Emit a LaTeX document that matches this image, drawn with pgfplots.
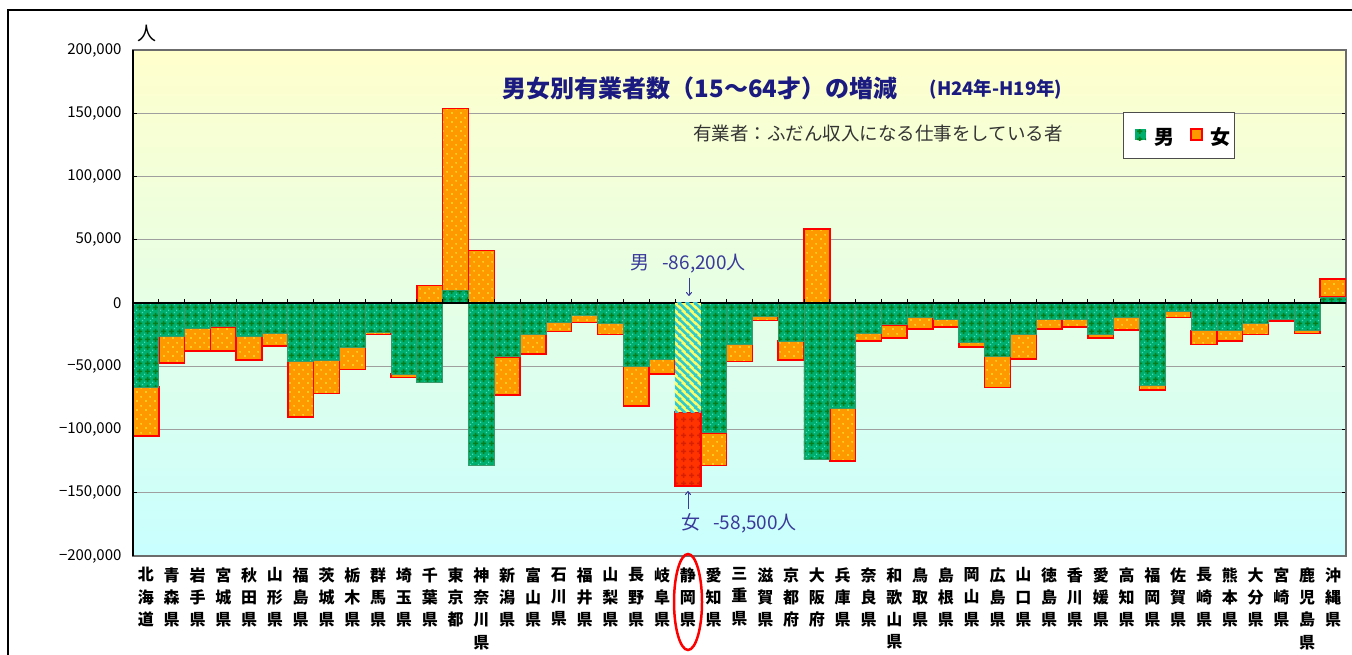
\documentclass[border=0pt]{standalone}
\usepackage{fontspec}
\setmainfont{Noto Sans CJK JP}
\usepackage{pgfplots}
\pgfplotsset{compat=1.18}
\usepackage{pgfplotstable}
\usetikzlibrary{patterns,arrows.meta}

\definecolor{maleg}{HTML}{00AE6E}
\definecolor{maledark}{HTML}{067E1E}
\definecolor{malelt}{HTML}{40E0C0}
\definecolor{maleedge}{HTML}{3A9A6A}
\definecolor{femo}{HTML}{FF9900}
\definecolor{femdot}{HTML}{FFFF40}
\definecolor{femred}{HTML}{FF0000}
\definecolor{titleblue}{HTML}{1A1A80}
\definecolor{annblue}{HTML}{3A3A9A}
\definecolor{bgtop}{HTML}{FFFFCC}
\definecolor{bgmid}{HTML}{E6FFE6}
\definecolor{bgbot}{HTML}{C8FFFF}
\definecolor{shizY}{HTML}{FFFF66}
\definecolor{shizC}{HTML}{30C8D0}
\definecolor{shizR}{HTML}{FF3300}
\definecolor{shizRd}{HTML}{D82000}

\pgfdeclarepatternformonly{malepat}{\pgfqpoint{0pt}{0pt}}{\pgfqpoint{8pt}{8pt}}{\pgfqpoint{8pt}{8pt}}{%
  \pgfpathrectangle{\pgfqpoint{3.1pt}{1.2pt}}{\pgfqpoint{1.8pt}{5.6pt}}%
  \pgfpathrectangle{\pgfqpoint{1.2pt}{3.1pt}}{\pgfqpoint{5.6pt}{1.8pt}}%
  \pgfusepath{fill}}
\pgfdeclarepatternformonly{malelight}{\pgfqpoint{0pt}{0pt}}{\pgfqpoint{8pt}{8pt}}{\pgfqpoint{8pt}{8pt}}{%
  \pgfpathrectangle{\pgfqpoint{0pt}{0pt}}{\pgfqpoint{1.4pt}{1.4pt}}%
  \pgfpathrectangle{\pgfqpoint{6.6pt}{6.6pt}}{\pgfqpoint{1.4pt}{1.4pt}}%
  \pgfusepath{fill}}
\pgfdeclarepatternformonly{femdots}{\pgfqpoint{0pt}{0pt}}{\pgfqpoint{9pt}{9pt}}{\pgfqpoint{9pt}{9pt}}{%
  \pgfpathcircle{\pgfqpoint{2.25pt}{2.25pt}}{0.9pt}%
  \pgfpathcircle{\pgfqpoint{6.75pt}{6.75pt}}{0.9pt}%
  \pgfusepath{fill}}
\pgfdeclarepatternformonly{stripes}{\pgfqpoint{0pt}{0pt}}{\pgfqpoint{8pt}{8pt}}{\pgfqpoint{8pt}{8pt}}{%
  \pgfsetlinewidth{2.8pt}%
  \pgfpathmoveto{\pgfqpoint{-1pt}{1pt}}\pgfpathlineto{\pgfqpoint{1pt}{-1pt}}%
  \pgfpathmoveto{\pgfqpoint{-1pt}{9pt}}\pgfpathlineto{\pgfqpoint{9pt}{-1pt}}%
  \pgfpathmoveto{\pgfqpoint{7pt}{9pt}}\pgfpathlineto{\pgfqpoint{9pt}{7pt}}%
  \pgfusepath{stroke}}

% x: index, male, female (positive and negative values stack separately)
\pgfplotstableread{
x male female
0 -66400 -38600
1 -26500 -20800
2 -20100 -17700
3 -18800 -19000
4 -26500 -18700
5 -23800 -10100
6 -46000 -44200
7 -45200 -26200
8 -35200 -17400
9 -23500 -1600
10 -56300 -2700
11 -62400 13700
12 10000 143900
13 -128500 41300
14 -42600 -30100
15 -24900 -15300
16 -15300 -7400
17 -10000 -5300
18 -16100 -9000
19 -50000 -31500
20 -44200 -12100
21 0 0
22 -102600 -25900
23 -32500 -13800
24 -10300 -3700
25 -30200 -15000
26 -123800 58400
27 -83600 -41500
28 -23800 -6400
29 -17200 -10300
30 -11100 -9300
31 -12700 -6100
32 -31200 -3700
33 -42300 -24400
34 -25100 -19100
35 -13000 -7400
36 -13000 -5800
37 -24900 -2600
38 -11400 -10000
39 -65100 -3700
40 -6600 -4800
41 -21700 -11100
42 -21700 -8500
43 -16400 -8700
44 -12700 -1400
45 -21400 -2700
46 4700 14200
}\datatable

\begin{document}
\begin{tikzpicture}[x=1pt,y=1pt]
\useasboundingbox (0,0) rectangle (1352,655);
\draw[line width=1.5pt] (8,0) -- (8,645) -- (1352,645);

\begin{axis}[
  at={(133pt,99pt)}, anchor=south west,
  scale only axis, width=1213pt, height=506pt,
  xmin=-0.5, xmax=46.5, ymin=-200000, ymax=200000,
  ybar stacked, bar width=1,
  xtick={0,...,46},
  xticklabels={{北\\海\\道},{青\\森\\県},{岩\\手\\県},{宮\\城\\県},{秋\\田\\県},{山\\形\\県},{福\\島\\県},{茨\\城\\県},{栃\\木\\県},{群\\馬\\県},{埼\\玉\\県},{千\\葉\\県},{東\\京\\都},{神\\奈\\川\\県},{新\\潟\\県},{富\\山\\県},{石\\川\\県},{福\\井\\県},{山\\梨\\県},{長\\野\\県},{岐\\阜\\県},{静\\岡\\県},{愛\\知\\県},{三\\重\\県},{滋\\賀\\県},{京\\都\\府},{大\\阪\\府},{兵\\庫\\県},{奈\\良\\県},{和\\歌\\山\\県},{鳥\\取\\県},{島\\根\\県},{岡\\山\\県},{広\\島\\県},{山\\口\\県},{徳\\島\\県},{香\\川\\県},{愛\\媛\\県},{高\\知\\県},{福\\岡\\県},{佐\\賀\\県},{長\\崎\\県},{熊\\本\\県},{大\\分\\県},{宮\\崎\\県},{鹿\\児\\島\\県},{沖\\縄\\県}},
  xtick style={draw=none},
  xticklabel style={font=\fontsize{16}{22.3}\selectfont\bfseries, align=center, anchor=north, yshift=-8pt},
  ytick={-200000,-150000,-100000,-50000,0,50000,100000,150000,200000},
  yticklabels={{−200,000},{−150,000},{−100,000},{−50,000},0,{50,000},{100,000},{150,000},{200,000}},
  yticklabel style={font=\fontsize{15}{15}\selectfont, xshift=-8pt},
  ytick style={black, line width=1pt},
  tick align=inside, major tick length=4pt,
  scaled y ticks=false,
  ymajorgrids, grid style={draw=gray!75, line width=1pt},
  axis line style={draw=gray!85!black, line width=1.2pt},
  axis background/.style={top color=bgtop, bottom color=bgbot, middle color=bgmid},
]
\addplot[fill=maleg, draw=maleedge, line width=0.8pt,
  postaction={pattern=malepat, pattern color=maledark},
  postaction={pattern=malelight, pattern color=malelt}]
  table[x=x, y=male] {\datatable};
\addplot[fill=femo, draw=femred, line width=1.5pt,
  postaction={pattern=femdots, pattern color=femdot}]
  table[x=x, y=female] {\datatable};
\end{axis}

\begin{axis}[
  at={(133pt,99pt)}, anchor=south west,
  scale only axis, width=1213pt, height=506pt,
  xmin=-0.5, xmax=46.5, ymin=-200000, ymax=200000,
  hide axis, ybar stacked, bar width=1,
]
\addplot[fill=shizY, draw=none, postaction={pattern=stripes, pattern color=shizC}]
  coordinates {(21,-86200)};
\addplot[fill=shizR, draw=femred, line width=1.5pt, postaction={pattern=malepat, pattern color=shizRd}]
  coordinates {(21,-58500)};
\draw[black, line width=1.5pt] (axis cs:-0.5,0) -- (axis cs:46.5,0);
\pgfplotsinvokeforeach{0,...,45}{\draw[black, line width=0.8pt] (axis cs:#1.5,0) -- ++(0pt,4pt);}
\end{axis}

\draw[black, line width=1.2pt] (133,99) -- (133,605);

% titles
\node[text=titleblue, font=\fontsize{24}{24}\selectfont\bfseries] at (700,567) {男女別有業者数（15～64才）の増減};
\node[text=titleblue, font=\fontsize{18.5}{18.5}\selectfont\bfseries] at (996,566) {(H24年-H19年)};
\node[text=black!80, font=\fontsize{18.5}{18.5}\selectfont] at (878,522) {有業者：ふだん収入になる仕事をしている者};
\node[font=\fontsize{19}{19}\selectfont] at (147,622) {人};

% legend
\draw[gray!60!black, fill=white, line width=0.8pt] (1123,497) rectangle (1234,543);
\fill[maleg] (1135,514.5) rectangle (1146,525.5);
\fill[pattern=malepat, pattern color=maledark] (1135,514.5) rectangle (1146,525.5);
\node[font=\fontsize{20}{20}\selectfont\bfseries] at (1164,518) {男};
\draw[femred, fill=femo, line width=1.2pt] (1191,515) rectangle (1202,526);
\node[font=\fontsize{20}{20}\selectfont\bfseries] at (1220,518) {女};

% annotations
\node[text=annblue, font=\fontsize{19}{19}\selectfont] at (688,391) {男\hspace{0.7em}-86,200人};
\draw[annblue, line width=1pt, -{To[length=4pt,width=6pt]}] (689,377) -- (689,359);
\draw[annblue, line width=1pt, -{To[length=4pt,width=6pt]}] (688,146) -- (688,164);
\node[text=annblue, font=\fontsize{19}{19}\selectfont] at (739,132) {女\hspace{0.7em}-58,500人};
\draw[red, line width=2.5pt] (688,53) ellipse [x radius=14, y radius=48];
\end{tikzpicture}
\end{document}
